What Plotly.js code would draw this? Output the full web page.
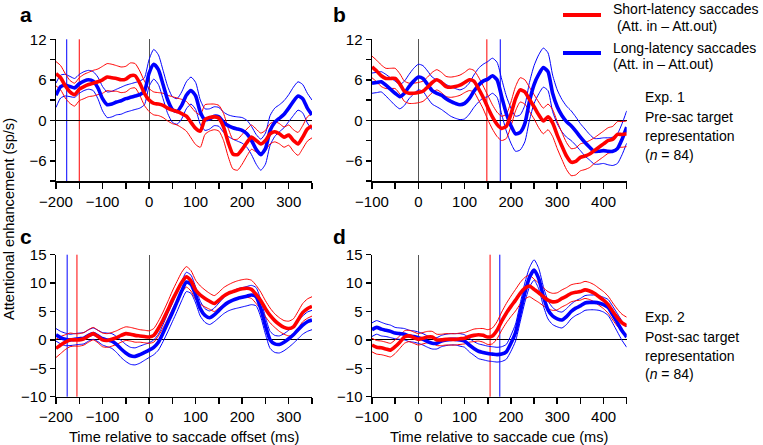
<!DOCTYPE html>
<html>
<head>
<meta charset="utf-8">
<script src="https://cdn.plot.ly/plotly-3.0.1.min.js"></script>
<style>html,body{margin:0;padding:0;background:#fff;}#chart{width:763px;height:445px;}</style>
</head>
<body>
<div id="chart"></div>
<script>
// ---------- time bases ----------
const timeOffset = [-200,-190,-180,-170,-160,-150,-140,-130,-120,-110,-100,-90,-80,-70,-60,-50,-40,-30,-20,-10,0,10,20,30,40,50,60,70,80,90,100,110,120,130,140,150,160,170,180,190,200,210,220,230,240,250,260,270,280,290,300,310,320,330,340,350];
const timeCue = [-100,-90,-80,-70,-60,-50,-40,-30,-20,-10,0,10,20,30,40,50,60,70,80,90,100,110,120,130,140,150,160,170,180,190,200,210,220,230,240,250,260,270,280,290,300,310,320,330,340,350,360,370,380,390,400,410,420,430,440,450];

// ---------- Panel a (Exp. 1, aligned to saccade offset) ----------
const aShortMean = [6.9,6.3,5.1,4.2,3.8,4.6,5.0,5.3,5.5,5.7,6.0,6.4,6.3,6.2,6.0,6.1,6.6,6.6,5.5,4.0,3.0,2.5,2.4,2.2,1.8,1.5,1.3,1.0,0.6,-0.3,-1.2,-1.6,0.1,0.4,0.5,0.3,-1.0,-3.3,-5.0,-5.1,-4.3,-3.3,-2.5,-3.0,-3.5,-3.0,-2.0,-1.7,-2.0,-2.5,-2.2,-3.0,-3.5,-2.5,-1.3,-0.8];
const aShortSE = [1.8,1.8,1.8,1.7,1.7,1.7,1.8,1.8,1.9,1.9,2.0,2.0,2.0,1.9,1.9,1.9,1.9,1.8,1.8,1.8,1.7,1.7,1.7,1.8,1.9,2.0,2.0,2.1,2.2,2.3,2.4,2.4,2.2,2.0,1.9,1.9,2.0,2.1,2.2,2.3,2.2,2.0,1.8,1.7,1.6,1.5,1.5,1.5,1.5,1.5,1.5,1.6,1.7,1.7,1.8,1.8];
const aLongMean = [3.7,5.0,5.2,5.0,4.8,5.4,5.8,6.0,5.8,4.8,3.2,2.3,2.4,2.7,2.9,3.2,3.4,3.6,3.8,4.3,7.0,8.3,7.5,5.3,3.0,1.6,1.3,2.2,3.7,4.4,3.6,1.2,0.1,0.2,0.6,0.5,-0.3,-0.8,-1.1,-1.3,-1.5,-2.0,-3.0,-4.3,-5.1,-4.2,-1.5,-0.3,0.3,0.9,1.8,2.8,3.6,3.2,1.8,0.8];
const aLongSE = [1.8,1.7,1.6,1.5,1.4,1.4,1.4,1.4,1.4,1.6,1.8,1.9,1.9,1.9,2.0,2.0,2.0,2.0,2.0,2.0,2.0,2.2,2.2,2.1,2.0,1.9,1.9,2.0,2.0,2.0,2.0,1.8,1.6,1.5,1.4,1.4,1.5,1.6,1.7,1.8,1.9,2.0,2.1,2.2,2.3,2.3,2.2,2.1,2.0,2.0,2.0,2.1,2.1,2.1,2.2,2.2];

// ---------- Panel b (Exp. 1, aligned to saccade cue) ----------
const bShortMean = [7.9,7.3,6.6,6.2,6.2,6.2,5.4,4.3,4.0,4.0,4.1,4.3,4.9,5.6,6.0,5.6,5.0,4.9,5.0,5.2,5.6,6.0,5.8,4.7,3.4,1.9,0.5,-0.6,-1.2,-0.9,0.9,3.2,4.5,4.2,3.1,2.0,0.8,-0.1,0.5,-0.4,-2.2,-3.8,-5.3,-6.2,-6.1,-5.5,-5.3,-5.0,-4.5,-4.0,-3.5,-3.0,-2.8,-2.1,-2.1,-2.0];
const bShortSE = [1.6,1.6,1.6,1.5,1.5,1.5,1.5,1.5,1.5,1.5,1.5,1.5,1.5,1.5,1.5,1.5,1.5,1.5,1.5,1.5,1.5,1.6,1.6,1.7,1.7,1.8,1.8,1.8,1.8,1.8,1.8,1.8,1.8,1.8,1.8,1.8,1.9,1.9,1.9,2.0,2.0,2.0,2.0,2.0,2.0,2.0,2.0,2.0,1.9,1.9,1.9,1.9,1.9,1.9,1.9,1.9];
const bLongMean = [5.5,5.6,5.7,5.2,4.6,4.0,3.5,4.0,5.0,5.8,6.4,6.2,5.3,4.4,4.0,3.7,3.2,2.8,2.5,2.3,2.5,3.2,4.3,5.2,5.8,6.1,6.6,6.0,3.5,1.0,-0.8,-2.0,-1.8,-0.5,2.8,5.3,6.8,7.8,7.2,4.0,2.0,0.7,-0.2,-0.8,-1.6,-2.5,-3.3,-4.0,-4.6,-4.6,-4.5,-4.6,-4.6,-4.2,-2.8,-1.0];
const bLongSE = [1.5,1.5,1.5,1.6,1.7,1.8,1.8,1.8,1.8,1.9,1.9,1.9,2.0,2.0,2.0,2.1,2.1,2.2,2.2,2.2,2.3,2.3,2.4,2.5,2.5,2.6,2.6,2.6,2.6,2.6,2.6,2.6,2.6,2.7,2.8,2.8,2.9,2.9,2.8,2.7,2.5,2.4,2.3,2.2,2.1,2.0,2.0,1.9,1.9,1.9,1.9,2.0,2.1,2.2,2.3,2.4];

// ---------- Panel c (Exp. 2, aligned to saccade offset) ----------
const cShortMean = [-1.5,-0.9,-0.4,0.0,0.0,0.0,0.2,0.7,1.1,0.6,0.0,-0.1,0.1,0.4,0.8,1.1,1.0,0.8,0.7,0.6,0.5,0.8,2.0,3.5,5.2,7.0,8.6,10.1,11.1,10.4,8.8,7.9,7.3,6.8,6.4,7.0,7.7,8.2,8.5,8.8,9.0,9.1,8.9,8.0,6.9,5.5,4.3,3.4,2.7,2.2,2.0,2.3,3.5,4.8,5.5,5.9];
const cShortSE = [1.6,1.5,1.3,1.2,1.1,1.1,1.1,1.1,1.1,1.1,1.2,1.2,1.2,1.2,1.2,1.2,1.2,1.2,1.1,1.1,1.1,1.2,1.3,1.4,1.5,1.6,1.7,1.8,1.8,1.8,1.7,1.6,1.5,1.4,1.4,1.4,1.5,1.5,1.6,1.6,1.6,1.6,1.6,1.6,1.5,1.4,1.3,1.2,1.2,1.2,1.3,1.4,1.5,1.6,1.7,1.7];
const cLongMean = [0.9,0.4,0.1,0.0,0.1,0.2,0.3,0.8,1.1,0.7,0.2,0.0,-0.2,-0.8,-1.6,-2.3,-2.8,-2.9,-2.6,-2.2,-1.8,-1.3,-0.4,1.2,3.0,4.8,6.7,8.6,10.2,9.8,7.9,5.5,4.3,3.9,4.4,5.2,6.0,6.6,7.0,7.3,7.5,7.7,7.9,7.6,5.5,2.5,0.0,-0.7,-0.8,-0.4,0.2,0.9,1.8,2.6,3.2,3.5];
const cLongSE = [1.1,1.1,1.1,1.0,1.0,1.0,1.0,1.0,1.0,1.0,1.1,1.2,1.3,1.4,1.5,1.5,1.5,1.5,1.5,1.4,1.3,1.3,1.4,1.5,1.6,1.6,1.7,1.7,1.7,1.6,1.4,1.3,1.2,1.2,1.2,1.3,1.4,1.5,1.6,1.7,1.7,1.7,1.7,1.6,1.5,1.5,1.5,1.5,1.5,1.5,1.5,1.5,1.6,1.6,1.7,1.7];

// ---------- Panel d (Exp. 2, aligned to saccade cue) ----------
const dShortMean = [-0.9,-1.3,-1.4,-1.6,-1.8,-1.2,-0.4,0.5,0.7,0.4,0.1,0.3,0.5,0.5,0.0,0.0,0.1,0.1,0.1,0.2,0.3,0.6,0.8,0.9,0.8,0.5,0.7,1.7,3.3,4.7,5.9,7.0,8.2,9.1,9.5,8.9,8.3,7.6,7.0,6.7,6.8,7.3,7.7,8.2,8.4,8.5,8.8,8.6,8.2,7.6,7.0,6.2,5.0,3.9,3.0,2.5];
const dShortSE = [1.2,1.2,1.2,1.2,1.2,1.2,1.1,1.1,1.0,1.0,1.0,1.0,1.0,1.0,1.0,1.0,1.0,1.0,1.0,1.0,1.0,1.0,1.1,1.1,1.2,1.3,1.4,1.5,1.6,1.7,1.8,1.9,1.9,1.9,1.9,1.8,1.7,1.6,1.5,1.5,1.5,1.5,1.5,1.5,1.5,1.5,1.5,1.5,1.5,1.5,1.5,1.5,1.5,1.5,1.5,1.5];
const dLongMean = [1.8,2.2,1.9,1.7,1.5,1.2,1.1,1.0,0.7,0.6,0.4,0.1,-0.3,-0.6,-0.6,-0.2,0.0,0.1,0.1,0.0,-0.2,-0.9,-1.5,-2.0,-2.2,-2.4,-2.5,-2.6,-2.5,-2.1,-0.6,1.3,4.8,8.3,11.0,12.3,10.8,7.7,5.3,4.2,3.7,3.5,4.1,5.0,5.6,6.0,6.5,6.6,6.6,6.5,6.2,5.7,4.4,3.0,1.6,0.5];
const dLongSE = [1.2,1.2,1.2,1.1,1.1,1.0,1.0,1.0,1.0,1.0,1.0,1.0,1.0,1.0,1.0,1.0,1.0,1.0,1.0,1.1,1.1,1.2,1.2,1.3,1.3,1.3,1.3,1.3,1.3,1.3,1.4,1.5,1.6,1.7,1.7,1.8,1.8,1.7,1.6,1.5,1.4,1.4,1.4,1.3,1.3,1.3,1.3,1.3,1.3,1.3,1.3,1.4,1.5,1.6,1.7,1.8];

// ---------- median saccade latency markers (ms) ----------
const latencyShort = [-150, 148, -155, 155];
const latencyLong = [-177, 177, -176, 176];

// ---------- tick labels ----------
const xTicksOffset = [-200,-150,-100,-50,0,50,100,150,200,250,300,350];
const xTextOffset = ["\u2212200","","\u2212100","","0","","100","","200","","300",""];
const xTicksCue = [-100,-50,0,50,100,150,200,250,300,350,400,450];
const xTextCue = ["\u2212100","","0","","100","","200","","300","","400",""];
const yTicksExp1 = [-9,-6,-3,0,3,6,9,12];
const yTextExp1 = ["","\u22126","","0","","6","","12"];
const yTicksExp2 = [-10,-5,0,5,10,15];
const yTextExp2 = ["\u221210","\u22125","0","5","10","15"];

const RED = '#ff0000', BLUE = '#0000ff';
const W = 763, H = 445;

function add(arr, se, s) { return arr.map((v, i) => v + s * se[i]); }

const panels = [
  {t: timeOffset, sm: aShortMean, ss: aShortSE, lm: aLongMean, ls: aLongSE, ax: ''},
  {t: timeCue, sm: bShortMean, ss: bShortSE, lm: bLongMean, ls: bLongSE, ax: '2'},
  {t: timeOffset, sm: cShortMean, ss: cShortSE, lm: cLongMean, ls: cLongSE, ax: '3'},
  {t: timeCue, sm: dShortMean, ss: dShortSE, lm: dLongMean, ls: dLongSE, ax: '4'}
];

const traces = [];
panels.forEach(p => {
  const xa = 'x' + p.ax, ya = 'y' + p.ax;
  [[p.lm, p.ls, BLUE], [p.sm, p.ss, RED]].forEach(([m, se, c]) => {
    [1, -1].forEach(s => traces.push({x: p.t, y: add(m, se, s), xaxis: xa, yaxis: ya, type: 'scatter', mode: 'lines',
      line: {color: c, width: 1, shape: 'spline', smoothing: 0.6}, hoverinfo: 'skip'}));
  });
  traces.push({x: p.t, y: p.lm, xaxis: xa, yaxis: ya, type: 'scatter', mode: 'lines', line: {color: BLUE, width: 3.6, shape: 'spline', smoothing: 0.6}});
  traces.push({x: p.t, y: p.sm, xaxis: xa, yaxis: ya, type: 'scatter', mode: 'lines', line: {color: RED, width: 3.6, shape: 'spline', smoothing: 0.6}});
});

const FAM = 'Liberation Sans, Arial, Helvetica, sans-serif';
const font = {family: FAM, size: 14, color: '#000'};
const tickFont = {family: FAM, size: 15, color: '#000'};
const titleFont = {family: FAM, size: 14.6, color: '#000'};
function xax(dom, anchor, range, tv, tt) {
  return {domain: dom, anchor: anchor, range: range, tickmode: 'array', tickvals: tv, ticktext: tt,
    showline: true, linecolor: '#000', linewidth: 1.5, ticks: 'outside', ticklen: 6, tickwidth: 1.5, tickcolor: '#000',
    showgrid: false, zeroline: true, zerolinecolor: '#555', zerolinewidth: 1, tickfont: tickFont, fixedrange: true};
}
function yax(dom, anchor, range, tv, tt) {
  return {domain: dom, anchor: anchor, range: range, tickmode: 'array', tickvals: tv, ticktext: tt,
    showline: true, linecolor: '#000', linewidth: 1.5, ticks: 'outside', ticklen: 5, tickwidth: 1.5, tickcolor: '#000',
    showgrid: false, zeroline: true, zerolinecolor: '#000', zerolinewidth: 1, tickfont: tickFont, fixedrange: true};
}
const xdomL = [56 / W, 312 / W], xdomR = [372 / W, 626.7 / W];
const ydomT = [1 - 181 / H, 1 - 39.3 / H], ydomB = [1 - 396.7 / H, 1 - 254.7 / H];

const shapes = [];
const axKeys = ['', '2', '3', '4'];
axKeys.forEach((k, i) => {
  [[latencyShort[i], RED], [latencyLong[i], BLUE]].forEach(([v, c]) => shapes.push({
    type: 'line', xref: 'x' + k, yref: 'y' + k + ' domain', x0: v, x1: v, y0: 0, y1: 1,
    line: {color: c, width: 1}, layer: 'below'}));
});
// legend swatches
shapes.push({type: 'line', xref: 'paper', yref: 'paper', x0: 563 / W, x1: 601 / W, y0: 1 - 15 / H, y1: 1 - 15 / H, line: {color: RED, width: 4}});
shapes.push({type: 'line', xref: 'paper', yref: 'paper', x0: 563 / W, x1: 601 / W, y0: 1 - 53 / H, y1: 1 - 53 / H, line: {color: BLUE, width: 4}});

function ann(text, x, y, opts) {
  return Object.assign({text: text, x: x / W, y: 1 - y / H, xref: 'paper', yref: 'paper', showarrow: false,
    xanchor: 'left', yanchor: 'middle', borderpad: 0, font: font}, opts || {});
}
const bold = {family: FAM, size: 21, color: '#000', weight: 'bold'};
const annotations = [
  ann('<b>a</b>', 19, 15, {font: bold}),
  ann('<b>b</b>', 332, 15, {font: bold}),
  ann('<b>c</b>', 19, 236, {font: bold}),
  ann('<b>d</b>', 332, 236, {font: bold}),
  ann('Short-latency saccades', 612, 0, {yanchor: 'top'}),
  ann(' (Att. in \u2013 Att.out)', 612, 17, {yanchor: 'top'}),
  ann('Long-latency saccades', 612, 48),
  ann('(Att. in \u2013 Att.out)', 612, 64.5),
  ann('Exp. 1', 644, 97),
  ann('Pre-sac target', 644, 117),
  ann('representation', 644, 136),
  ann('(<i>n</i> = 84)', 644, 155),
  ann('Exp. 2', 644, 317),
  ann('Post-sac target', 644, 337),
  ann('representation', 644, 355.5),
  ann('(<i>n</i> = 84)', 644, 374),
  ann('Attentional enhancement (sp/s)', 9, 219, {xanchor: 'center', textangle: -90, font: titleFont}),
  ann('Time relative to saccade offset (ms)', 184, 437, {xanchor: 'center', font: titleFont}),
  ann('Time relative to saccade cue (ms)', 499, 437, {xanchor: 'center', font: titleFont})
];

const layout = {
  width: W, height: H, margin: {l: 0, r: 0, t: 0, b: 0},
  paper_bgcolor: '#fff', plot_bgcolor: 'rgba(0,0,0,0)', showlegend: false, font: font,
  xaxis: xax(xdomL, 'y', [-200, 350], xTicksOffset, xTextOffset),
  yaxis: yax(ydomT, 'x', [-9, 12], yTicksExp1, yTextExp1),
  xaxis2: xax(xdomR, 'y2', [-100, 450], xTicksCue, xTextCue),
  yaxis2: yax(ydomT, 'x2', [-9, 12], yTicksExp1, yTextExp1),
  xaxis3: xax(xdomL, 'y3', [-200, 350], xTicksOffset, xTextOffset),
  yaxis3: yax(ydomB, 'x3', [-10, 15], yTicksExp2, yTextExp2),
  xaxis4: xax(xdomR, 'y4', [-100, 450], xTicksCue, xTextCue),
  yaxis4: yax(ydomB, 'x4', [-10, 15], yTicksExp2, yTextExp2),
  shapes: shapes, annotations: annotations
};
Plotly.newPlot('chart', traces, layout, {displayModeBar: false, staticPlot: true});
</script>
</body>
</html>
